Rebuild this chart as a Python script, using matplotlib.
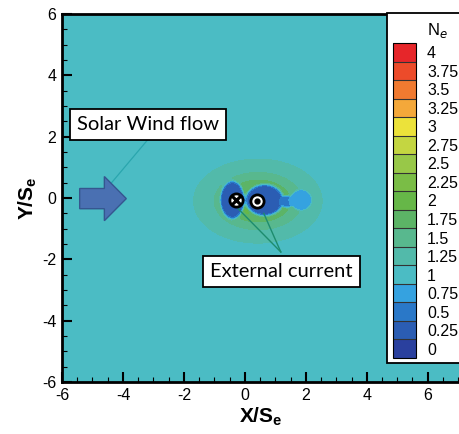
import numpy as np
import matplotlib
matplotlib.use("Agg")
import matplotlib.pyplot as plt
from matplotlib.colors import ListedColormap
from matplotlib.patches import Rectangle

plt.rcParams['font.family'] = ['Liberation Sans', 'DejaVu Sans']
plt.rcParams['mathtext.fontset'] = 'custom'
plt.rcParams['mathtext.rm'] = 'Liberation Sans'
plt.rcParams['mathtext.bf'] = 'Liberation Sans:bold'
plt.rcParams['axes.unicode_minus'] = False

# legend levels of N_e and their colours (bottom to top)
ne_ticks = [0, 0.25, 0.5, 0.75, 1, 1.25, 1.5, 1.75, 2, 2.25, 2.5, 2.75,
            3, 3.25, 3.5, 3.75, 4]
ne_colors = ['#2a409e', '#2b5db3', '#2a78c8', '#35a2e0', '#4bbcc4',
             '#52baaa', '#58b88e', '#5cb466', '#66b748', '#7abd46',
             '#98c848', '#c4d641', '#ece23a', '#f4a83a', '#f07a30',
             '#ec4b2a', '#e6262a']

# density field
ne_background = 1.0
halo_center = (0.4, -0.1)      # teal region around the coils
halo_sigma = (1.3, 0.85)
halo_amp = 0.32
rim_center = (0.45, -0.1)      # green compressed rim
rim_sigma = (0.85, 0.55)
rim_amp = 0.85

# depleted cavities: centre, half width, half height, density inside
hole_x = [-0.405, 0.64, 1.38, 1.84]
hole_y = [-0.065, -0.07, -0.12, -0.065]
hole_a = [0.42, 0.66, 0.24, 0.38]
hole_b = [0.64, 0.54, 0.22, 0.36]
hole_ne = [0.22, 0.22, 0.6, 0.72]

# external currents
current_in = (-0.30, -0.08)
current_out = (0.39, -0.10)

x = np.linspace(-6, 7.1, 524)
y = np.linspace(-6, 6, 480)
X, Y = np.meshgrid(x, y)

ne = ne_background + halo_amp * np.exp(-((X - halo_center[0]) ** 2 / (2 * halo_sigma[0] ** 2)
                                         + (Y - halo_center[1]) ** 2 / (2 * halo_sigma[1] ** 2)))
ne += rim_amp * np.exp(-((X - rim_center[0]) ** 2 / (2 * rim_sigma[0] ** 2)
                         + (Y - rim_center[1]) ** 2 / (2 * rim_sigma[1] ** 2)))
for hx, hy, ha, hb, hv in zip(hole_x, hole_y, hole_a, hole_b, hole_ne):
    r2 = ((X - hx) / ha) ** 2 + ((Y - hy) / hb) ** 2
    s = np.exp(-r2 ** 8)
    ne = ne * (1 - s) + hv * s

bounds = np.arange(-0.125, 4.25, 0.25)
cmap = ListedColormap(ne_colors)

fig = plt.figure(figsize=(4.6, 4.34), dpi=100)
ax = fig.add_axes([62 / 460, 1 - 382 / 434, 398 / 460, 368 / 434])
cs = ax.contourf(X, Y, ne, levels=bounds, cmap=cmap)

ax.set_xlim(-6, 7.06)
ax.set_ylim(-6, 6)
ax.set_xticks(np.arange(-6, 7, 2))
ax.set_yticks(np.arange(-6, 7, 2))
ax.set_xticks(np.arange(-6, 7.01, 0.5), minor=True)
ax.set_yticks(np.arange(-6, 6.01, 0.5), minor=True)
ax.tick_params(which='major', direction='in', length=7, width=1.5, labelsize=11.5, pad=4)
ax.tick_params(which='minor', direction='in', length=3.5, width=0.8)
for side in ['left', 'bottom', 'top']:
    ax.spines[side].set_linewidth(2)
ax.spines['right'].set_visible(False)
ax.set_xlabel(r'$\mathbf{X/S_e}$', fontsize=15, labelpad=2)
ax.set_ylabel(r'$\mathbf{Y/S_e}$', fontsize=15, labelpad=2)

# solar wind arrow
ax.arrow(-5.42, -0.02, 0.81, 0, width=0.66, head_width=1.44, head_length=0.72,
         length_includes_head=False, fc='#4a70b2', ec='#35568f', lw=1, zorder=5)

# current markers
ax.plot(*current_in, 'o', ms=9.5, mfc='white', mec='black', mew=2, zorder=6)
ax.plot(*current_in, 'x', ms=6.5, mec='black', mew=2.3, zorder=7)
ax.plot(*current_out, 'o', ms=9.5, mfc='white', mec='black', mew=2, zorder=6)
ax.plot(*current_out, 'o', ms=3.5, mfc='black', mec='black', zorder=7)

# annotations
box = dict(boxstyle='square,pad=0.35', fc='white', ec='black', lw=1.3)
ax.plot([-3.17, -4.38], [1.92, 0.49], color='#2aa6ae', lw=0.9, zorder=4)
ax.text(-3.19, 2.41, 'Solar Wind flow', family=['Lato', 'DejaVu Sans'], fontsize=14.5,
        ha='center', va='center', bbox=box, zorder=8)
ax.plot([1.18, -0.22], [-1.76, -0.35], color='#1d8c6e', lw=1, zorder=4)
ax.plot([1.18, 0.62], [-1.76, -0.5], color='#1d8c6e', lw=1, zorder=4)
ax.text(1.21, -2.4, 'External current', family=['Lato', 'DejaVu Sans'], fontsize=14.5,
        ha='center', va='center', bbox=box, zorder=8)

# legend panel
ax.add_patch(Rectangle((387 / 460, 1 - 363 / 434), 80 / 460, 350 / 434,
                       transform=fig.transFigure, fc='white', ec='black', lw=1.3,
                       clip_on=False, zorder=20))
cax = fig.add_axes([393 / 460, 1 - 358 / 434, 23 / 460, 315 / 434])
cb = fig.colorbar(cs, cax=cax, ticks=ne_ticks, drawedges=True)
cb.outline.set_linewidth(0.8)
cb.dividers.set_color('#333333')
cb.dividers.set_linewidth(0.8)
cb.ax.set_yticklabels(['%g' % t for t in ne_ticks])
cb.ax.tick_params(length=0, labelsize=11.5, pad=8)
fig.text(437 / 460, 1 - 31 / 434, r'N$_e$', fontsize=12, ha='center', va='center')

fig.savefig('out.png', dpi=100)
